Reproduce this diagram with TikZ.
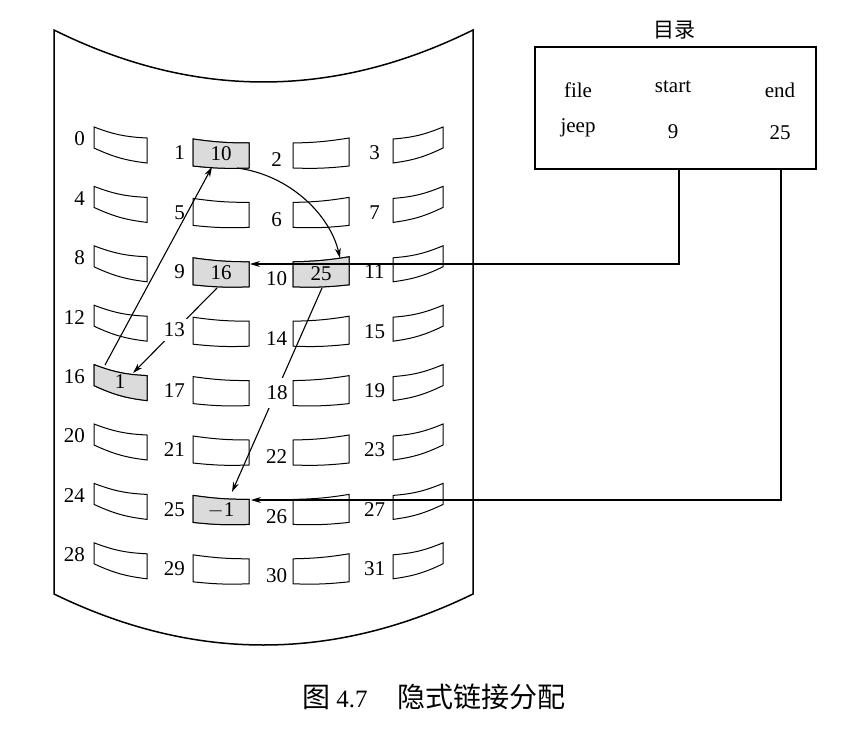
\documentclass[tikz,border=0pt]{standalone}
\usepackage{fontspec}
\setmainfont{Liberation Serif}
\newfontfamily\cjk{Noto Sans CJK SC}
\usetikzlibrary{arrows.meta}
\newcommand\blkA{(94,127) to[bend right=9] (147,138) -- (147,163) to[bend left=9] (94,148) -- cycle}
\newcommand\blkB{(193,139) to[bend right=4] (249,143) -- (249,168) to[bend left=4] (193,166) -- cycle}
\newcommand\blkC{(293,143) to[bend right=4] (349,138) -- (349,166) to[bend left=4] (293,168) -- cycle}
\newcommand\blkD{(393,139) to[bend right=9] (443,127) -- (443,148) to[bend left=9] (393,163) -- cycle}
\begin{document}
\begin{tikzpicture}[x=1pt,y=-1pt,
  blk/.style={draw, line width=1pt},
  shaded/.style={blk, fill=black!14},
  num/.style={font=\fontsize{21}{23}\selectfont, inner sep=1pt},
  labA/.style={num, anchor=east},
  labC/.style={num, anchor=center},
  arr/.style={line width=1.1pt, -{Stealth[length=10pt,width=6pt]}},
  frame/.style={line width=1.5pt}]
\useasboundingbox (0,0) rectangle (860,730);

% surface
\draw[frame, line join=miter] (54,30) .. controls (193.7,99.3) and (333.3,99.3) .. (473,30) -- (473,594) .. controls (333.3,662) and (193.7,662) .. (54,594) -- cycle;

% blocks
\foreach \r in {0,...,7} {
  \begin{scope}[shift={(0,59.4*\r)}]
    \draw[blk] \blkA;
    \draw[blk] \blkB;
    \draw[blk] \blkC;
    \draw[blk] \blkD;
  \end{scope}
}
\draw[shaded] \blkB;
\draw[shaded, shift={(0,118.8)}] \blkB;
\draw[shaded, shift={(0,118.8)}] \blkC;
\draw[shaded, shift={(0,237.6)}] \blkA;
\draw[shaded, shift={(0,356.4)}] \blkB;

\node[num] (b1) at (221,154) {10};
\node[num] (b9) at (221,273) {16};
\node[num] (b10) at (321,274) {25};
\node[num] (b16) at (120,382) {1};
\node[num] (b25) at (221,510) {$-$1};

% directory
\node[draw, frame, minimum width=281pt, minimum height=122pt] (dir) at (675.5,108) {};
\node[font=\cjk\fontsize{21}{23}\selectfont] (title) at (674,30) {目录};
\node[num] (hfile) at (578,90) {file};
\node[num] (hstart) at (673,87) {start};
\node[num] (hend) at (780,90) {end};
\node[num] (vfile) at (578,128) {jeep};
\node[num] (vstart) at (673,132) {9};
\node[num] (vend) at (780,133) {25};

% connector end points
\coordinate (ds) at (679,169);
\coordinate (de) at (781,169);
\coordinate (b9e) at (250,264);
\coordinate (b25e) at (251,500);
\coordinate (b1s) at (237,168);
\coordinate (b10n) at (340,258);
\coordinate (b9s) at (217,288);
\coordinate (b16n) at (133,373);
\coordinate (b16s) at (105,365);
\coordinate (b1b) at (212,167);
\coordinate (b10s) at (322,288);
\coordinate (b25n) at (232,492);

\draw[arr] (ds) |- (b9e);
\draw[arr] (de) |- (b25e);
\draw[arr] (b1s) .. controls (290,175) and (330,215) .. (b10n);
\draw[arr] (b9s) -- (b16n);
\draw[arr] (b16s) -- (b1b);
\draw[arr] (b10s) -- (b25n);

% labels
\foreach \r in {0,...,7} {
  \pgfmathtruncatemacro\na{4*\r}
  \pgfmathtruncatemacro\nb{4*\r+1}
  \pgfmathtruncatemacro\nc{4*\r+2}
  \pgfmathtruncatemacro\nd{4*\r+3}
  \ifnum\nb=13\relax\else
    \node[labA] (l\nb) at (186,153+59.4*\r) {\nb};
  \fi
  \ifnum\nc=18\relax\else
    \node[labC] (l\nc) at (276.5,160+59.4*\r) {\nc};
  \fi
  \node[labA] (l\na) at (86,139+59.4*\r) {\na};
  \node[labC] (l\nd) at (374.5,153+59.4*\r) {\nd};
}
\node[labA, fill=white, inner xsep=2pt, inner ysep=4pt] (l13) at (187,330) {13};
\node[labC, fill=white, inner xsep=2pt, inner ysep=8pt] (l18) at (277,393) {18};

% caption
\node[font=\fontsize{25}{27}\selectfont] (cap) at (434,697) {{\cjk\fontsize{28}{30}\selectfont 图}\hspace{6pt}4.7\hspace{30pt}{\cjk\fontsize{28}{30}\selectfont 隐式链接分配}};
\end{tikzpicture}
\end{document}
